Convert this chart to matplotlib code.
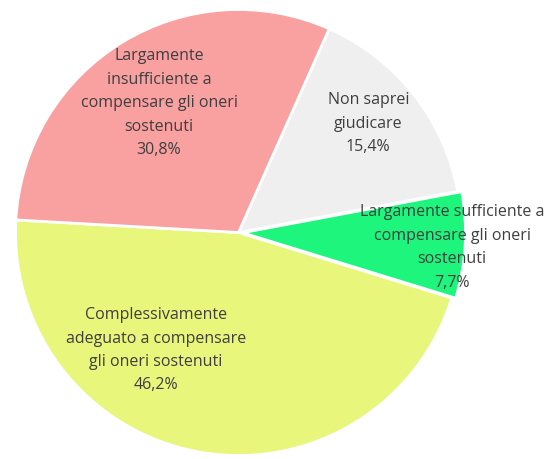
import numpy as np
import matplotlib
matplotlib.use("Agg")
import matplotlib.pyplot as plt

plt.rcParams["font.family"] = ["Open Sans", "DejaVu Sans"]

# Survey answers, clockwise from the top-right boundary
labels = [
    "Non saprei\ngiudicare",
    "Largamente sufficiente a\ncompensare gli oneri\nsostenuti",
    "Complessivamente\nadeguato a compensare\ngli oneri sostenuti",
    "Largamente\ninsufficiente a\ncompensare gli oneri\nsostenuti",
]
shares = [15.4, 7.7, 46.2, 30.8]
colors = ["#efeff0", "#1ef57c", "#e8f67c", "#f9a0a0"]
explode = [0, 4, 0, 0]

# label anchor per slice: (angle in degrees, radius fraction)
label_pos = [(40, 0.76), (-4, 0.96), (-125, 0.645), (121.6, 0.68)]

W, H = 556, 459
fig = plt.figure(figsize=(W / 100, H / 100), dpi=100)
ax = fig.add_axes([0, 0, 1, 1])

cx, cy, R = 238.5, H - 232.5, 223
ax.pie(shares, colors=colors, startangle=66, counterclock=False,
       center=(cx, cy), radius=R, frame=True, explode=explode,
       wedgeprops=dict(edgecolor="white", linewidth=2))
ax.set_xlim(0, W)
ax.set_ylim(0, H)
ax.axis("off")

for text, val, (ang, frac) in zip(labels, shares, label_pos):
    a = np.deg2rad(ang)
    x = cx + frac * R * np.cos(a)
    y = cy + frac * R * np.sin(a)
    pct = f"{val:.1f}%".replace(".", ",")
    ax.text(x, y, f"{text}\n{pct}", ha="center", va="center",
            fontsize=11.5, color="#3f3f3f", linespacing=1.62)

fig.savefig("out.png", dpi=100)
